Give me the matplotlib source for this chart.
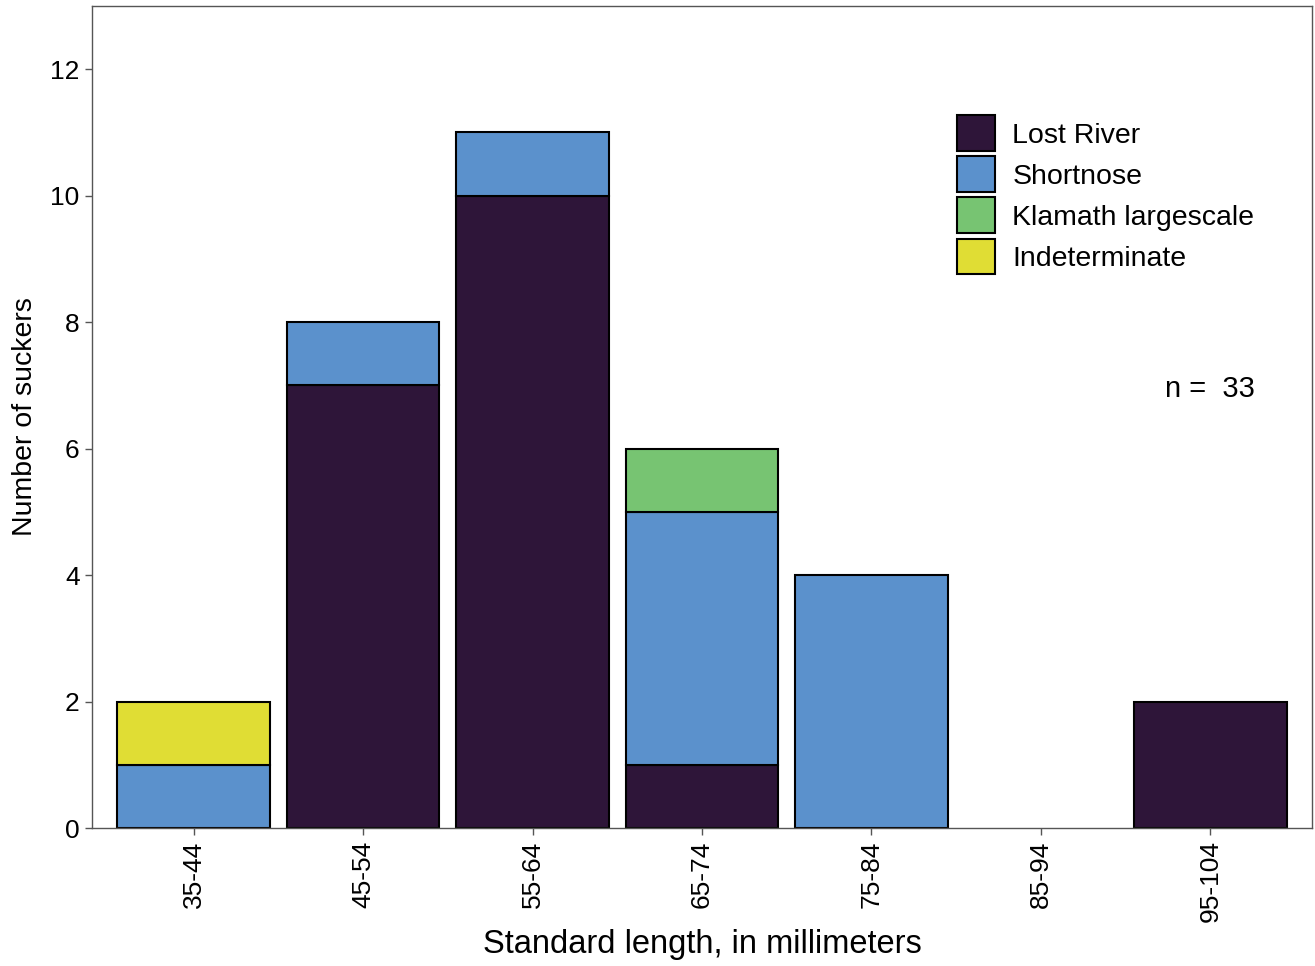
import matplotlib.pyplot as plt
import numpy as np
from matplotlib.patches import Patch

plt.rcParams['font.family'] = ['Liberation Sans', 'DejaVu Sans']

bins = ['35-44', '45-54', '55-64', '65-74', '75-84', '85-94', '95-104']
lost_river = [0, 7, 10, 1, 0, 0, 2]
shortnose = [1, 1, 1, 4, 4, 0, 0]
klamath = [0, 0, 0, 1, 0, 0, 0]
indeterminate = [1, 0, 0, 0, 0, 0, 0]

species = ['Lost River', 'Shortnose', 'Klamath largescale', 'Indeterminate']
colors = ['#2e1539', '#5b91cc', '#77c472', '#e0dd34']
series = [lost_river, shortnose, klamath, indeterminate]

fig = plt.figure(figsize=(13.15, 9.66), dpi=100)
ax = fig.add_axes([92/1315, 138/966, 1220/1315, 822/966])

x = np.arange(len(bins))
bottom = np.zeros(len(bins))
for vals, col in zip(series, colors):
    vals = np.array(vals, dtype=float)
    keep = vals > 0
    ax.bar(x[keep], vals[keep], bottom=bottom[keep], width=0.9,
           color=col, edgecolor='black', linewidth=1.5, zorder=2)
    bottom += vals

ax.set_xlim(-0.6, 6.6)
ax.set_ylim(0, 13)
ax.set_yticks([0, 2, 4, 6, 8, 10, 12])
ax.set_xticks(x)
ax.set_xticklabels(bins, rotation=90)
for s in ax.spines.values():
    s.set_color('#555555')
    s.set_linewidth(1.0)
ax.tick_params(axis='both', colors='#555555', labelcolor='black', labelsize=19,
               length=5, width=1.0, pad=4)

ax.set_ylabel('Number of suckers', fontsize=20.5, labelpad=8.5)
ax.set_xlabel('Standard length, in millimeters', fontsize=23.5, labelpad=5)

ax.text(6, 6.95, 'n =  33', fontsize=21, ha='center', va='center')

handles = [Patch(facecolor=c, edgecolor='black', linewidth=1.5, label=s)
           for s, c in zip(species, colors)]
leg = ax.legend(handles=handles, loc='upper left', bbox_to_anchor=(0.709, 0.867),
                frameon=False, fontsize=20.5, handlelength=1.34, handleheight=1.55,
                handletextpad=0.6, labelspacing=0.19, borderaxespad=0,
                borderpad=0)

fig.savefig('out.png', dpi=100)
